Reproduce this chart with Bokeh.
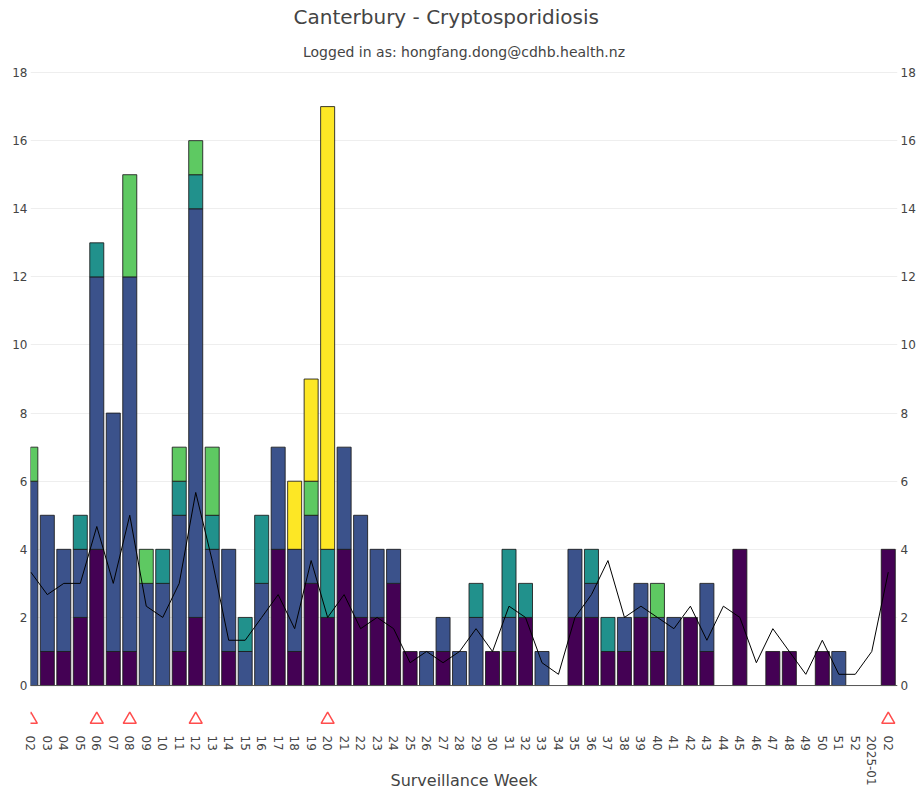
import math
from bokeh.plotting import figure
from bokeh.models import Range1d, LinearAxis, FixedTicker, Span, Title, ColumnDataSource
from bokeh.embed import file_html
from bokeh.resources import INLINE

# ---------------- data ----------------
weeks = ["02", "03", "04", "05", "06", "07", "08", "09", "10", "11", "12", "13",
         "14", "15", "16", "17", "18", "19", "20", "21", "22", "23", "24", "25",
         "26", "27", "28", "29", "30", "31", "32", "33", "34", "35", "36", "37",
         "38", "39", "40", "41", "42", "43", "44", "45", "46", "47", "48", "49",
         "50", "51", "52", "2025-01", "02"]

group_1 = [0, 1, 1, 2, 4, 1, 1, 0, 0, 1, 2, 0,
           1, 0, 0, 4, 1, 3, 2, 4, 2, 2, 3, 1,
           0, 1, 0, 0, 1, 1, 2, 0, 0, 2, 2, 1,
           1, 2, 1, 0, 2, 1, 0, 4, 0, 1, 1, 0,
           1, 0, 0, 0, 4]
group_2 = [6, 4, 3, 2, 8, 7, 11, 3, 3, 4, 12, 4,
           3, 1, 3, 3, 3, 2, 0, 3, 3, 2, 1, 0,
           1, 1, 1, 2, 0, 1, 0, 1, 0, 2, 1, 0,
           1, 1, 1, 2, 0, 2, 0, 0, 0, 0, 0, 0,
           0, 1, 0, 0, 0]
group_3 = [0, 0, 0, 1, 1, 0, 0, 0, 1, 1, 1, 1,
           0, 1, 2, 0, 0, 0, 2, 0, 0, 0, 0, 0,
           0, 0, 0, 1, 0, 2, 1, 0, 0, 0, 1, 1,
           0, 0, 0, 0, 0, 0, 0, 0, 0, 0, 0, 0,
           0, 0, 0, 0, 0]
group_4 = [1, 0, 0, 0, 0, 0, 3, 1, 0, 1, 1, 2,
           0, 0, 0, 0, 0, 1, 0, 0, 0, 0, 0, 0,
           0, 0, 0, 0, 0, 0, 0, 0, 0, 0, 0, 0,
           0, 0, 1, 0, 0, 0, 0, 0, 0, 0, 0, 0,
           0, 0, 0, 0, 0]
group_5 = [0, 0, 0, 0, 0, 0, 0, 0, 0, 0, 0, 0,
           0, 0, 0, 0, 2, 3, 13, 0, 0, 0, 0, 0,
           0, 0, 0, 0, 0, 0, 0, 0, 0, 0, 0, 0,
           0, 0, 0, 0, 0, 0, 0, 0, 0, 0, 0, 0,
           0, 0, 0, 0, 0]
historic_avg = [3.33, 2.67, 3.0, 3.0, 4.67, 3.0, 5.0, 2.33, 2.0, 3.0, 5.67, 3.67,
                1.33, 1.33, 2.0, 2.67, 1.67, 3.67, 2.0, 2.67, 1.67, 2.0, 1.67, 0.67,
                1.0, 0.67, 1.0, 1.67, 1.0, 2.33, 2.0, 0.67, 0.33, 2.0, 2.67, 3.67,
                2.0, 2.33, 2.0, 1.67, 2.33, 1.33, 2.33, 2.0, 0.67, 1.67, 1.0, 0.33,
                1.33, 0.33, 0.33, 1.0, 3.33]
alert = [1, 0, 0, 0, 1, 0, 1, 0, 0, 0, 1, 0,
         0, 0, 0, 0, 0, 0, 1, 0, 0, 0, 0, 0,
         0, 0, 0, 0, 0, 0, 0, 0, 0, 0, 0, 0,
         0, 0, 0, 0, 0, 0, 0, 0, 0, 0, 0, 0,
         0, 0, 0, 0, 1]
y_ticks = [0, 2, 4, 6, 8, 10, 12, 14, 16, 18]

series = [group_1, group_2, group_3, group_4, group_5]
colors = ["#440154", "#3b528b", "#21918c", "#5ec962", "#fde725"]

FONT = "DejaVu Sans"
TXT = "#444444"

n = len(weeks)
xs = list(range(n))

p = figure(frame_width=867, frame_height=660,
           x_range=Range1d(-0.02, n - 1 + 0.56), y_range=Range1d(-1.32, 18.06),
           output_backend="svg", toolbar_location=None,
           min_border_left=30, min_border_right=15, min_border_top=70, min_border_bottom=58)
p.outline_line_color = None

# stacked bars (skip empty segments)
base = [0] * n
for vals, col in zip(series, colors):
    bx, bb, bt = [], [], []
    for i in range(n):
        if vals[i] > 0:
            bx.append(xs[i]); bb.append(base[i]); bt.append(base[i] + vals[i])
        base[i] += vals[i]
    src = ColumnDataSource(dict(x=bx, bottom=bb, top=bt))
    p.vbar(x="x", bottom="bottom", top="top", width=0.85, source=src,
           fill_color=col, line_color="#1a1a1a", line_alpha=0.85, line_width=1)

p.add_layout(Span(location=0, dimension="width", line_color="#555555", line_width=1))

p.line(xs, historic_avg, line_color="black", line_width=1)

ax = [xs[i] for i in range(n) if alert[i]]
p.scatter(ax, [-1.0] * len(ax), marker="triangle", size=13, fill_color=None,
          line_color="#ff4d4d", line_width=1.5)

# axes
p.xaxis.ticker = FixedTicker(ticks=xs)
p.xaxis.major_label_overrides = {i: w for i, w in enumerate(weeks)}
p.xaxis.major_label_orientation = -math.pi / 2
p.xaxis.axis_line_color = None
p.xaxis.major_tick_line_color = None
p.xaxis.minor_tick_line_color = None
p.xaxis.major_tick_out = 0
p.xaxis.major_tick_in = 0
p.xaxis.minor_tick_out = 0
p.xaxis.major_label_standoff = 5
p.xaxis.major_label_text_font = FONT
p.xaxis.major_label_text_font_size = "12px"
p.xaxis.major_label_text_color = TXT
p.xaxis.axis_label = "Surveillance Week"
p.xaxis.axis_label_standoff = -18
p.xaxis.axis_label_text_font = FONT
p.xaxis.axis_label_text_font_size = "16px"
p.xaxis.axis_label_text_font_style = "normal"
p.xaxis.axis_label_text_color = TXT
p.xgrid.visible = False

p.yaxis.ticker = FixedTicker(ticks=y_ticks)
p.ygrid.grid_line_color = "#eeeeee"
p.ygrid.grid_line_width = 1

raxis = LinearAxis(ticker=FixedTicker(ticks=y_ticks))
p.add_layout(raxis, "right")
for a in (p.yaxis[0], raxis):
    a.axis_line_color = None
    a.major_tick_line_color = None
    a.minor_tick_line_color = None
    a.major_tick_out = 0
    a.major_tick_in = 0
    a.minor_tick_out = 0
    a.major_label_standoff = 3
    a.major_label_text_font = FONT
    a.major_label_text_font_size = "12px"
    a.major_label_text_color = TXT

# titles
p.add_layout(Title(text="Logged in as: hongfang.dong@cdhb.health.nz", align="center",
                   text_font=FONT, text_font_size="14px", text_font_style="normal",
                   text_color=TXT, standoff=22), "above")
p.add_layout(Title(text="Canterbury - Cryptosporidiosis", align="left", offset=263,
                   text_font=FONT, text_font_size="20px", text_font_style="normal",
                   text_color=TXT, standoff=4), "above")

open("out.html", "w").write(file_html(p, INLINE))
